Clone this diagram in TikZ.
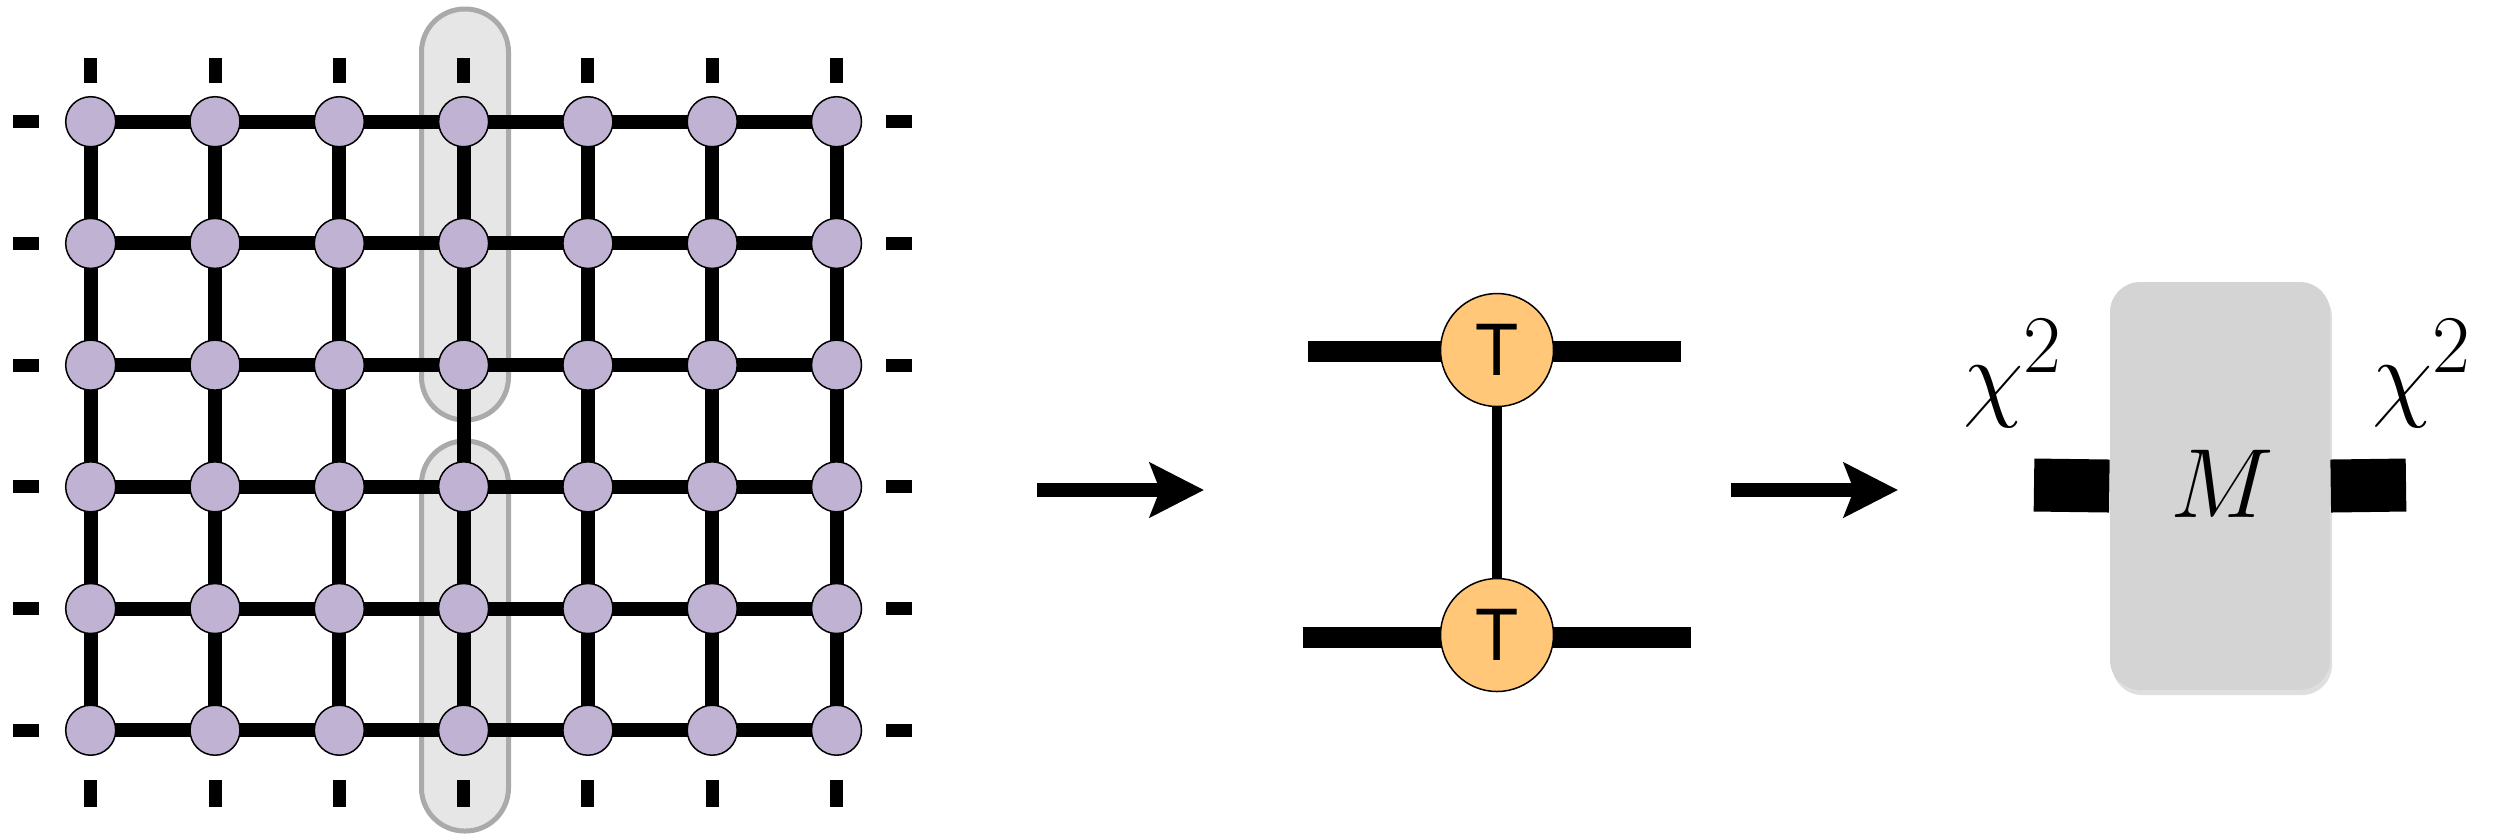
\documentclass[tikz,border=0pt]{standalone}
\usepackage{fontspec}
\newfontfamily\heros{TeX Gyre Heros}
\usetikzlibrary{arrows.meta,shadows}
\definecolor{sitepurple}{RGB}{191,178,210}
\definecolor{torange}{RGB}{255,199,119}
\definecolor{capfill}{RGB}{230,230,230}
\definecolor{capdraw}{RGB}{170,170,170}
\definecolor{boxgray}{RGB}{212,212,212}
\begin{document}
\begin{tikzpicture}[x=0.1mm,y=-0.1mm,
  site/.style={circle,draw=black,line width=0.15mm,fill=sitepurple,minimum size=5mm,inner sep=0pt},
  bond/.style={line width=1.4mm},
  stub/.style={line width=1.3mm},
  capsule/.style={draw=capdraw,line width=0.5mm,fill=capfill,rounded corners=4.3mm},
  tnode/.style={circle,draw=black,line width=0.15mm,fill=torange,minimum size=11.3mm,inner sep=0pt,font=\heros\fontsize{20}{20}\selectfont},
  thick bond/.style={line width=2.1mm},
  thin bond/.style={line width=1mm},
  flow/.style={line width=1.33mm,-{Stealth[length=5.4mm,width=5.4mm,inset=1mm]}},
  mbox/.style={rectangle,rounded corners=3mm,fill=boxgray,minimum width=22mm,minimum height=40.8mm,inner sep=0pt,
    drop shadow={shadow xshift=0.2mm,shadow yshift=-0.5mm,opacity=0.25}},
  leg/.style={line width=5.3mm},
  mathlabel/.style={inner sep=0pt,font=\Huge,scale=1.125}
]
\useasboundingbox (0,0) rectangle (2495,835);

% highlight capsules
\draw[capsule] (421.5,9) rectangle (508.5,420);
\draw[capsule] (421.5,441) rectangle (508.5,831);

% lattice coordinates
\foreach \i in {0,...,6}
  \foreach \j in {0,...,5}
    \coordinate (c\i\j) at ({90.7+124.3*\i},{121.7*(\j+1)});

% horizontal bonds
\foreach \i in {0,...,5}{
  \pgfmathtruncatemacro{\ii}{\i+1}
  \foreach \j in {0,...,5}
    \draw[bond] (c\i\j) -- (c\ii\j);
}
% vertical bonds
\foreach \j in {0,...,4}{
  \pgfmathtruncatemacro{\jj}{\j+1}
  \foreach \i in {0,...,6}
    \draw[bond] (c\i\j) -- (c\i\jj);
}

% open legs
\foreach \i in {0,...,6}{
  \draw[stub] ({90.7+124.3*\i},58) -- ({90.7+124.3*\i},83);
  \draw[stub] ({90.7+124.3*\i},780) -- ({90.7+124.3*\i},807);
}
\foreach \j in {0,...,5}{
  \draw[stub] (13,{121.7*(\j+1)}) -- (39,{121.7*(\j+1)});
  \draw[stub] (886,{121.7*(\j+1)}) -- (912,{121.7*(\j+1)});
}

% sites
\foreach \i in {0,...,6}
  \foreach \j in {0,...,5}
    \node[site] (n\i\j) at (c\i\j) {};

% arrow 1
\coordinate (a1s) at (1037,490);
\coordinate (a1e) at (1204,490);
\draw[flow] (a1s) -- (a1e);

% transfer matrix column
\coordinate (tl1) at (1308,351.5);
\coordinate (tr1) at (1681,351.5);
\coordinate (tl2) at (1303,637.5);
\coordinate (tr2) at (1691,637.5);
\draw[thick bond] (tl1) -- (tr1);
\draw[thick bond] (tl2) -- (tr2);
\coordinate (tc1) at (1497,350);
\coordinate (tc2) at (1497,635);
\draw[thin bond] (tc1) -- (tc2);
\node[tnode] (T1) at (tc1) {T};
\node[tnode] (T2) at (tc2) {T};

% arrow 2
\coordinate (a2s) at (1731,490);
\coordinate (a2e) at (1898,490);
\draw[flow] (a2s) -- (a2e);

% matrix M
\node[mbox] (M) at (2220,486) {};
\node[mathlabel,anchor=base] (Mlab) at (2222,517) {$M$};
\coordinate (bl) at (2034,485);
\coordinate (br) at (2406,485);
\draw[leg] (bl) -- (M.west);
\draw[leg] (M.east) -- (br);
\node[mathlabel,anchor=base] (chiL) at (2013,408) {$\chi^2$};
\node[mathlabel,anchor=base] (chiR) at (2422,408) {$\chi^2$};
\end{tikzpicture}
\end{document}
